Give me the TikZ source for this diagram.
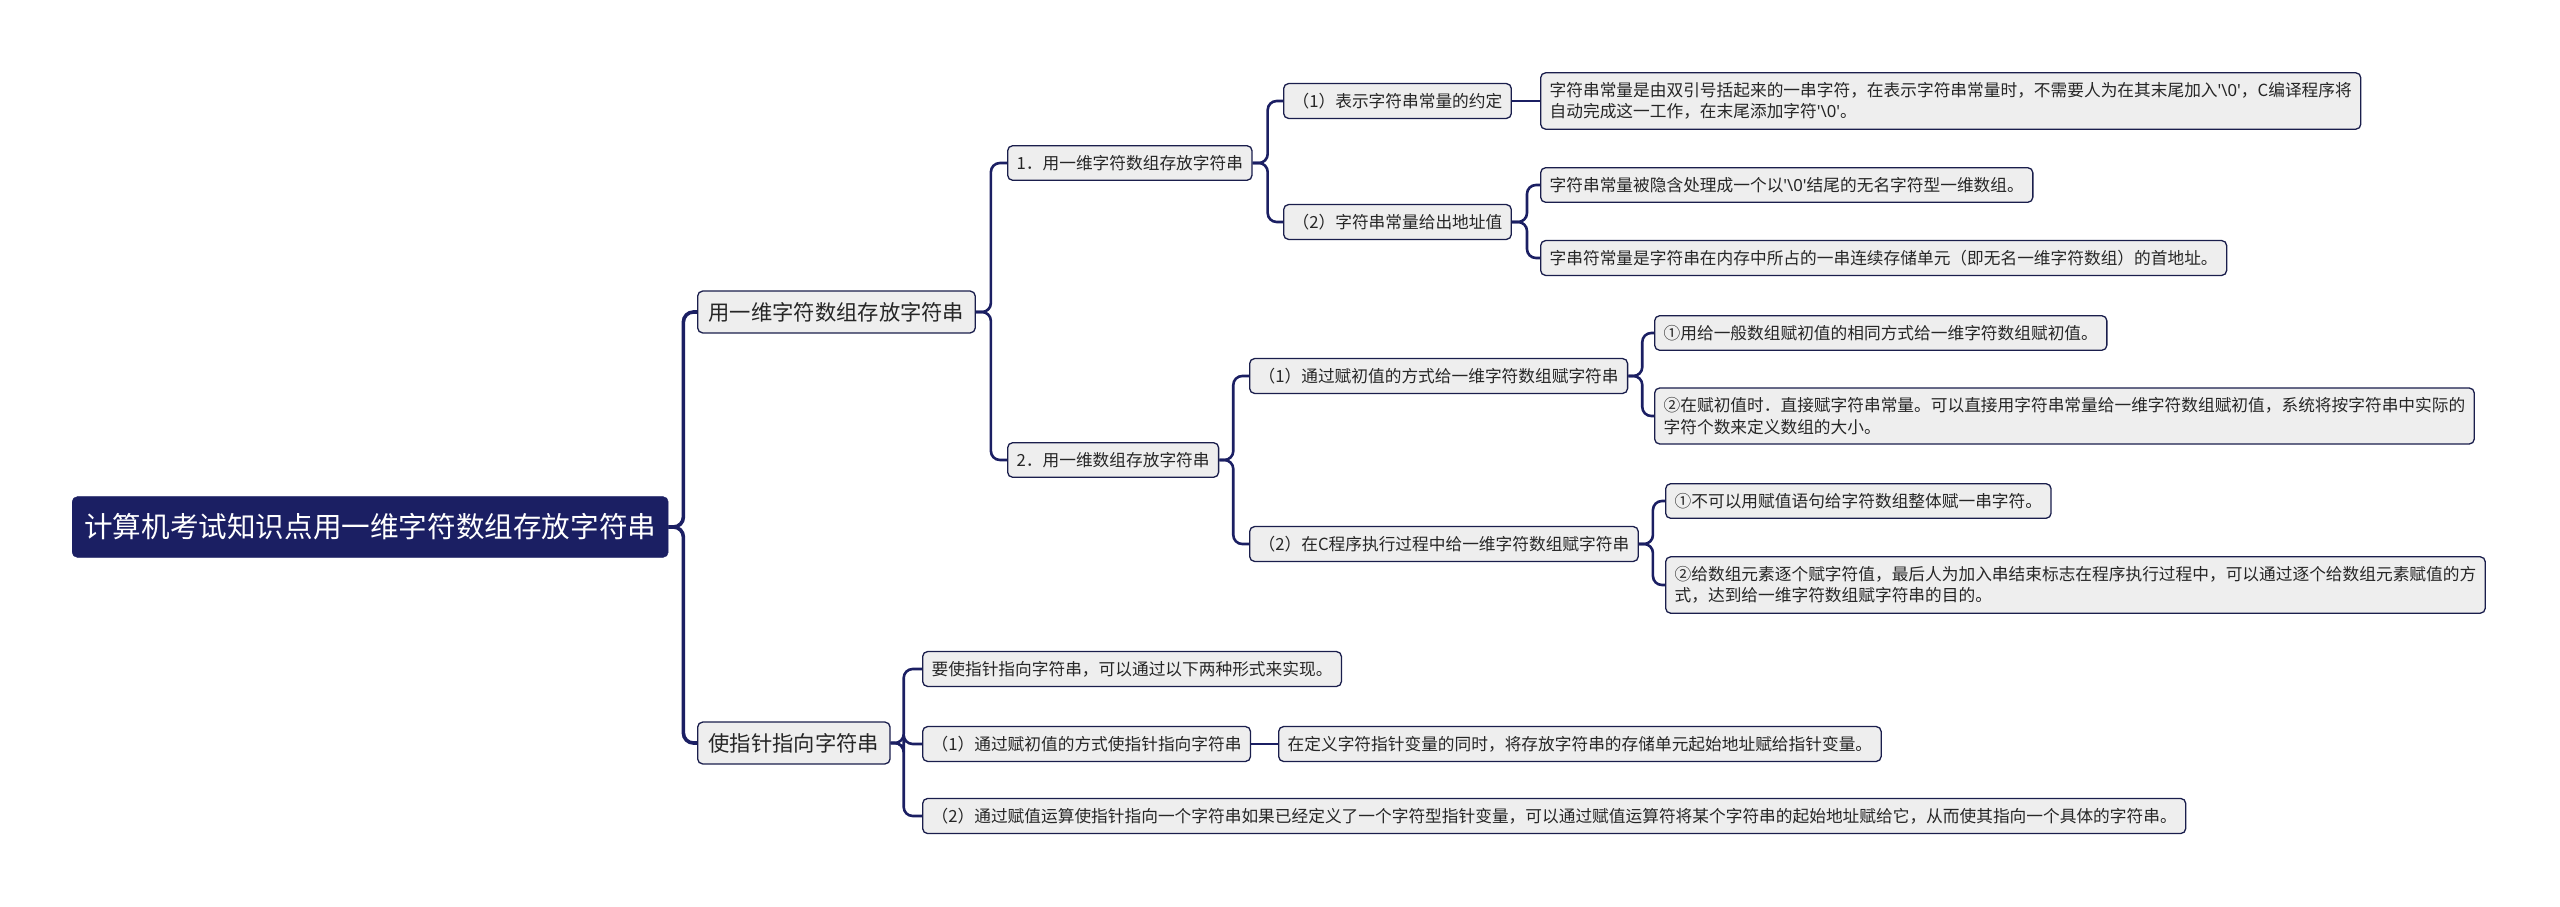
\documentclass[tikz,border=0pt]{standalone}
\usepackage{fontspec}
\setmainfont{Noto Sans CJK SC}
\newfontfamily\latinfont{Noto Sans}
\usetikzlibrary{calc}
\definecolor{navy}{HTML}{1B1F63}
\definecolor{edgenavy}{HTML}{1A1E4C}
\definecolor{boxgray}{HTML}{EEEEEE}
\newcommand{\nulchar}{{\latinfont\textquotesingle\textbackslash0\textquotesingle}}

\begin{document}
\begin{tikzpicture}[x=1pt,y=-1pt,
  rootbox/.style={draw=navy,fill=navy,text=white,rounded corners=5pt,
    font=\fontsize{28.6}{32}\selectfont,inner xsep=12pt,inner ysep=17pt,anchor=west},
  topicbox/.style={draw=edgenavy,fill=boxgray,text=black!85,rounded corners=5pt,
    line width=1.3pt,font=\fontsize{21.3}{25}\selectfont,inner xsep=11pt,inner ysep=11pt,anchor=west},
  subbox/.style={draw=edgenavy,fill=boxgray,text=black!85,rounded corners=5pt,
    line width=1.3pt,font=\fontsize{16.7}{21.5}\selectfont,inner xsep=9pt,inner ysep=9.5pt,anchor=west,align=left},
  link/.style={draw=navy,line width=2.6pt,rounded corners=9pt},
  trunk/.style={draw=navy,line width=3.6pt,rounded corners=10pt}]
\useasboundingbox (0,0) rectangle (2560,907);

% ---------- root ----------
\node[rootbox] (root) at (72,527) {计算机考试知识点用一维字符数组存放字符串};

% ---------- branch 1 : character arrays ----------
\node[topicbox] (arr) at (697,312) {用一维字符数组存放字符串};
\node[subbox] (arrA) at (1007,163) {1．用一维字符数组存放字符串};
\node[subbox] (arrAa) at (1283,101) {（1）表示字符串常量的约定};
\node[subbox] (arrAaL) at (1540,101) {字符串常量是由双引号括起来的一串字符，在表示字符串常量时，不需要人为在其末尾加入\nulchar，C编译程序将\\自动完成这一工作，在末尾添加字符\nulchar。};
\node[subbox] (arrAb) at (1283,222) {（2）字符串常量给出地址值};
\node[subbox] (arrAb1) at (1540,185) {字符串常量被隐含处理成一个以\nulchar 结尾的无名字符型一维数组。};
\node[subbox] (arrAb2) at (1540,258) {字串符常量是字符串在内存中所占的一串连续存储单元（即无名一维字符数组）的首地址。};

\node[subbox] (arrB) at (1007,460) {2．用一维数组存放字符串};
\node[subbox] (arrBa) at (1249,376) {（1）通过赋初值的方式给一维字符数组赋字符串};
\node[subbox] (arrBa1) at (1654,333) {①用给一般数组赋初值的相同方式给一维字符数组赋初值。};
\node[subbox] (arrBa2) at (1654,416) {②在赋初值时．直接赋字符串常量。可以直接用字符串常量给一维字符数组赋初值，系统将按字符串中实际的\\字符个数来定义数组的大小。};
\node[subbox] (arrBb) at (1249,544) {（2）在C程序执行过程中给一维字符数组赋字符串};
\node[subbox] (arrBb1) at (1665,501) {①不可以用赋值语句给字符数组整体赋一串字符。};
\node[subbox] (arrBb2) at (1665,585) {②给数组元素逐个赋字符值，最后人为加入串结束标志在程序执行过程中，可以通过逐个给数组元素赋值的方\\式，达到给一维字符数组赋字符串的目的。};

% ---------- branch 2 : pointers ----------
\node[topicbox] (ptr) at (697,743) {使指针指向字符串};
\node[subbox] (ptr0) at (922,669) {要使指针指向字符串，可以通过以下两种形式来实现。};
\node[subbox] (ptrA) at (922,744) {（1）通过赋初值的方式使指针指向字符串};
\node[subbox] (ptrAL) at (1278,744) {在定义字符指针变量的同时，将存放字符串的存储单元起始地址赋给指针变量。};
\node[subbox] (ptrB) at (922,816) {（2）通过赋值运算使指针指向一个字符串如果已经定义了一个字符型指针变量，可以通过赋值运算符将某个字符串的起始地址赋给它，从而使其指向一个具体的字符串。};

% ---------- connectors ----------
\foreach \kid in {arr,ptr}
  \draw[trunk] (root.east) -- ++(15,0) |- (\kid.west);
\foreach \kid in {arrA,arrB}
  \draw[link] (arr.east) -- ++(15,0) |- (\kid.west);
\foreach \kid in {arrAa,arrAb}
  \draw[link] (arrA.east) -- ++(15,0) |- (\kid.west);
\draw[link] (arrAa.east) -- (arrAaL.west);
\foreach \kid in {arrAb1,arrAb2}
  \draw[link] (arrAb.east) -- ++(15,0) |- (\kid.west);
\foreach \kid in {arrBa,arrBb}
  \draw[link] (arrB.east) -- ++(14,0) |- (\kid.west);
\foreach \kid in {arrBa1,arrBa2}
  \draw[link] (arrBa.east) -- ++(14,0) |- (\kid.west);
\foreach \kid in {arrBb1,arrBb2}
  \draw[link] (arrBb.east) -- ++(14,0) |- (\kid.west);
\foreach \kid in {ptr0,ptrA,ptrB}
  \draw[link] (ptr.east) -- ++(13,0) |- (\kid.west);
\draw[link] (ptrA.east) -- (ptrAL.west);

\end{tikzpicture}
\end{document}
